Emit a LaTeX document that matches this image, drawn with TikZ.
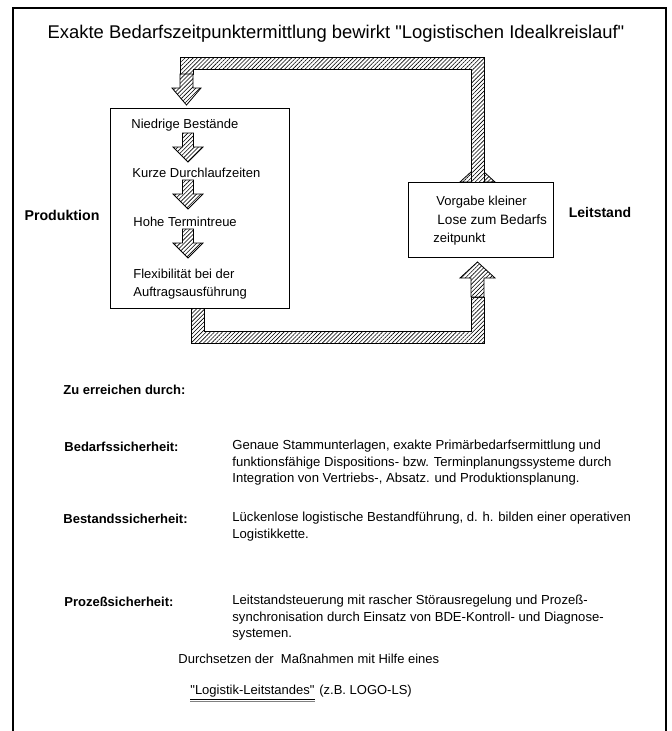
\documentclass[tikz,border=0pt]{standalone}
\usepackage{fontspec}
\setmainfont{Liberation Sans}
\usetikzlibrary{patterns.meta}
\begin{document}
\begin{tikzpicture}[x=1pt,y=-1pt,line width=0.8pt,line join=miter,
	hatch/.style={draw,fill=white,postaction={pattern={Lines[angle=45,distance=2.9pt,line width=0.6pt]}}},
	kasten/.style={draw,fill=white,inner sep=0pt,anchor=north west},
	txt/.style={inner sep=0pt,anchor=west,font=\fontsize{13}{16.5}\selectfont},
	lbl/.style={inner sep=0pt,font=\fontsize{13}{16}\selectfont\bfseries},
	para/.style={inner sep=0pt,anchor=north west,align=left,font=\fontsize{13.1}{16.5}\selectfont}]
	\useasboundingbox (0,0) rectangle (672,731);
	% Rahmen und Titel
	\draw[line width=1.1pt] (13,731)--(13,8)--(666,8)--(666,731);
	\node[inner sep=0pt,font=\fontsize{18.4}{22}\selectfont] (titel) at (336,34) {Exakte Bedarfszeitpunktermittlung bewirkt \textquotedbl Logistischen Idealkreislauf\textquotedbl};
	% Kreislauf
	\draw[hatch] (460,182)--(477.5,166)--(495,182)--cycle;
	\draw[hatch] (484,182)--(484,57)--(180,57)--(180,74)--(193,74)--(193,69)--(471,69)--(471,182);
	\draw[hatch] (180,74)--(180,88)--(172,88)--(186.5,105)--(201,88)--(193,88)--(193,74)--cycle;
	\draw[hatch] (191,308)--(191,343)--(484,343)--(484,297)--(471,297)--(471,331)--(204,331)--(204,308);
	\draw[hatch] (471,297)--(471,278)--(460,278)--(477.5,262)--(495,278)--(484,278)--(484,297)--cycle;
	% Kaesten
	\node[kasten,minimum width=179pt,minimum height=200pt] (prodbox) at (110,108) {};
	\node[kasten,minimum width=145pt,minimum height=75pt] (leitbox) at (408,182) {};
	\foreach \y in {133,180,229}
		\draw[hatch] (182.5,\y)--(182.5,\y+14)--(173,\y+14)--(188,\y+29)--(203,\y+14)--(193.5,\y+14)--(193.5,\y)--cycle;
	\node[txt] (bestaende) at (131,125) {Niedrige Bestände};
	\node[txt] (durchlauf) at (132,173) {Kurze Durchlaufzeiten};
	\node[txt] (termin) at (133,222) {Hohe Termintreue};
	\node[txt] (flex) at (133,274) {Flexibilität bei der};
	\node[txt] (auftrag) at (133,293) {Auftragsausführung};
	\node[txt] (vorgabe) at (436,202) {Vorgabe kleiner};
	\node[txt,font=\fontsize{13.6}{16.5}\selectfont] (lose) at (437,220) {Lose zum Bedarfs};
	\node[txt] (zeitp) at (433,239) {zeitpunkt};
	\node[lbl,font=\fontsize{14.2}{16}\selectfont\bfseries] (prod) at (62,215) {Produktion};
	\node[lbl,font=\fontsize{14}{16}\selectfont\bfseries] (leit) at (600,212) {Leitstand};
	% Massnahmen
	\node[lbl,anchor=west] (ziel) at (63,390) {Zu erreichen durch:};
	\node[lbl,anchor=west] (bedarf) at (64,447) {Bedarfssicherheit:};
	\node[para] (bedarftxt) at (232,440) {Genaue Stammunterlagen, exakte Primärbedarfsermittlung und\\funktionsfähige Dispositions- bzw. Terminplanungssysteme durch\\Integration von Vertriebs-, Absatz. und Produktionsplanung.};
	\node[lbl,anchor=west] (bestand) at (63,519) {Bestandssicherheit:};
	\node[para] (bestandtxt) at (232,512) {Lückenlose logistische Bestandführung, d. h. bilden einer operativen\\Logistikkette.};
	\node[lbl,anchor=west] (prozess) at (64,602) {Prozeßsicherheit:};
	\node[para] (prozesstxt) at (232,595) {Leitstandsteuerung mit rascher Störausregelung und Prozeß-\\synchronisation durch Einsatz von BDE-Kontroll- und Diagnose-\\systemen.};
	\node[txt] (massn) at (178,659) {Durchsetzen der\ \ Maßnahmen mit Hilfe eines};
	\node[txt] (logo) at (190,691) {\textquotedbl Logistik-Leitstandes\textquotedbl};
	\node[txt] (bsp) at ([xshift=4pt]logo.east) {(z.B. LOGO-LS)};
	\draw[line width=0.7pt] ([yshift=-1.5pt]logo.south west)--([yshift=-1.5pt]logo.south east);
	\draw[line width=0.6pt,gray] ([yshift=-4pt]logo.south west)--([yshift=-4pt]logo.south east);
\end{tikzpicture}
\end{document}
